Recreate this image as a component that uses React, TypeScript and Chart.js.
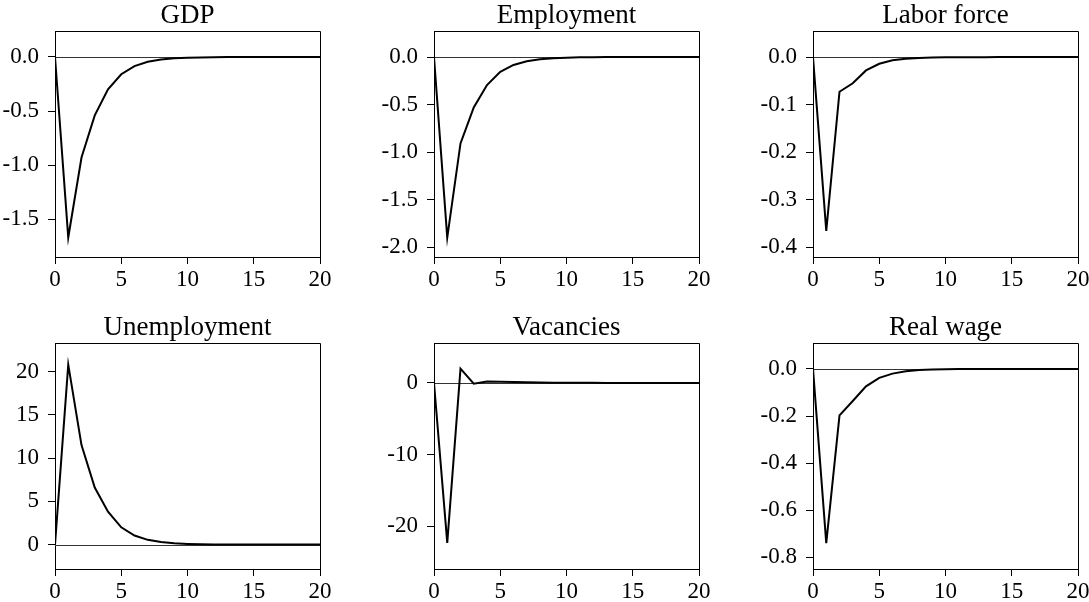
import React, { useEffect, useRef } from 'react';
import { Chart, registerables } from 'chart.js';

Chart.register(...registerables);

// ---------- data ----------
const periods = [0, 1, 2, 3, 4, 5, 6, 7, 8, 9, 10, 11, 12, 13, 14, 15, 16, 17, 18, 19, 20];
const xTicks = [0, 5, 10, 15, 20];

const gdp = [0, -1.67, -0.93, -0.54, -0.3, -0.16, -0.085, -0.045, -0.024, -0.013, -0.007, -0.004, -0.002, -0.001, -0.0006, -0.0003, -0.0002, -0.0001, 0, 0, 0];
const employment = [0, -1.9, -0.91, -0.53, -0.295, -0.155, -0.083, -0.044, -0.023, -0.012, -0.0065, -0.0035, -0.0018, -0.001, -0.0005, -0.0003, -0.0001, 0, 0, 0, 0];
const laborForce = [0, -0.366, -0.073, -0.055, -0.028, -0.014, -0.0068, -0.0035, -0.0018, -0.0009, -0.0005, -0.0003, -0.0002, -0.0001, 0, 0, 0, 0, 0, 0, 0];
const unemployment = [0, 20.8, 11.5, 6.6, 3.8, 2.0, 1.05, 0.55, 0.29, 0.15, 0.08, 0.04, 0.02, 0.01, 0.005, 0.003, 0.001, 0, 0, 0, 0];
const vacancies = [0, -22.3, 2.0, -0.1, 0.2, 0.18, 0.14, 0.1, 0.07, 0.05, 0.035, 0.025, 0.017, 0.012, 0.008, 0.005, 0.003, 0.002, 0.001, 0, 0];
const realWage = [0, -0.739, -0.197, -0.136, -0.074, -0.038, -0.02, -0.01, -0.005, -0.0027, -0.0014, -0.0007, -0.0004, -0.0002, -0.0001, 0, 0, 0, 0, 0, 0];

const gdpTicks = [-1.5, -1.0, -0.5, 0.0];
const employmentTicks = [-2.0, -1.5, -1.0, -0.5, 0.0];
const laborForceTicks = [-0.4, -0.3, -0.2, -0.1, 0.0];
const unemploymentTicks = [0, 5, 10, 15, 20];
const vacanciesTicks = [-20, -10, 0];
const realWageTicks = [-0.8, -0.6, -0.4, -0.2, 0.0];

const titles = ['GDP', 'Employment', 'Labor force', 'Unemployment', 'Vacancies', 'Real wage'];
const series = [gdp, employment, laborForce, unemployment, vacancies, realWage];
const yTickSets = [gdpTicks, employmentTicks, laborForceTicks, unemploymentTicks, vacanciesTicks, realWageTicks];
const yMins = [-1.85, -2.105, -0.421, -2.82, -25.95, -0.849];
const yMaxs = [0.24, 0.274, 0.055, 23.3, 5.58, 0.11];
const yDecimals = [1, 1, 1, 0, 0, 1];

// ---------- layout ----------
const FONT = "'Liberation Serif', 'Times New Roman', serif";
const CANVAS_W = 333;
const CANVAS_H = 290;
const COL_LEFT = [0, 379, 758];
const ROW_TOP = [0, 312];

const framePlugin = {
  id: 'frameAndZero',
  beforeDatasetsDraw(chart: any) {
    const { ctx, chartArea: a, scales } = chart;
    const y0 = Math.round(scales.y.getPixelForValue(0)) + 0.5;
    ctx.save();
    ctx.lineWidth = 1;
    ctx.strokeStyle = '#333';
    ctx.beginPath();
    ctx.moveTo(a.left, y0);
    ctx.lineTo(a.right, y0);
    ctx.stroke();
    ctx.strokeStyle = '#000';
    const t = Math.round(a.top) + 0.5;
    const r = Math.round(a.right) + 0.5;
    ctx.beginPath();
    ctx.moveTo(a.left, t);
    ctx.lineTo(r, t);
    ctx.lineTo(r, a.bottom);
    ctx.stroke();
    ctx.restore();
  },
};

export default function App() {
  const refs = useRef<(HTMLCanvasElement | null)[]>([]);

  useEffect(() => {
    const charts: Chart[] = [];
    for (let i = 0; i < 6; i++) {
      const canvas = refs.current[i];
      if (!canvas) continue;
      const tickFont = { family: FONT, size: 23, lineHeight: 1 };
      const dec = yDecimals[i];
      const yt = yTickSets[i];
      const chart = new Chart(canvas, {
        type: 'line',
        data: {
          datasets: [
            {
              data: periods.map((p, k) => ({ x: p, y: series[i][k] })),
              borderColor: '#000',
              borderWidth: 2,
              pointRadius: 0,
              tension: 0,
              fill: false,
            },
          ],
        },
        options: {
          responsive: false,
          animation: false,
          devicePixelRatio: 1,
          layout: { padding: { top: 0, right: 13, bottom: 0, left: 0 } },
          plugins: {
            legend: { display: false },
            tooltip: { enabled: false },
            title: {
              display: true,
              text: titles[i],
              fullSize: false,
              color: '#000',
              font: { family: FONT, size: 27, lineHeight: 1, weight: 'normal' },
              padding: { top: 2, bottom: 2 },
            },
          },
          scales: {
            x: {
              type: 'linear',
              min: 0,
              max: 20,
              afterBuildTicks: (s: any) => {
                s.ticks = xTicks.map((v) => ({ value: v }));
              },
              afterFit: (s: any) => {
                s.height = 33;
                s.paddingLeft = 0;
                s.paddingRight = 0;
              },
              grid: { drawOnChartArea: false, drawTicks: true, tickLength: 7, tickColor: '#000', tickWidth: 1 },
              border: { display: true, color: '#000', width: 1 },
              ticks: {
                color: '#000',
                font: tickFont,
                padding: 4,
                maxRotation: 0,
                autoSkip: false,
                callback: (v: any) => String(v),
              },
            },
            y: {
              type: 'linear',
              min: yMins[i],
              max: yMaxs[i],
              afterBuildTicks: (s: any) => {
                s.ticks = yt.map((v) => ({ value: v }));
              },
              afterFit: (s: any) => {
                s.width = 55;
                s.paddingTop = 0;
                s.paddingBottom = 0;
              },
              grid: { drawOnChartArea: false, drawTicks: true, tickLength: 7, tickColor: '#000', tickWidth: 1 },
              border: { display: true, color: '#000', width: 1 },
              ticks: {
                color: '#000',
                font: tickFont,
                padding: 9,
                autoSkip: false,
                callback: (v: any) => Number(v).toFixed(dec),
              },
            },
          },
        },
        plugins: [framePlugin],
      } as any);
      charts.push(chart);
    }
    return () => charts.forEach((c) => c.destroy());
  }, []);

  return (
    <div
      style={{
        position: 'absolute',
        left: 0,
        top: 0,
        width: 1089,
        height: 602,
        overflow: 'hidden',
        background: '#fff',
      }}
    >
      {titles.map((t, i) => (
        <canvas
          key={t}
          ref={(el) => {
            refs.current[i] = el;
          }}
          width={CANVAS_W}
          height={CANVAS_H}
          style={{
            position: 'absolute',
            left: COL_LEFT[i % 3],
            top: ROW_TOP[Math.floor(i / 3)],
            width: CANVAS_W,
            height: CANVAS_H,
          }}
        />
      ))}
    </div>
  );
}
